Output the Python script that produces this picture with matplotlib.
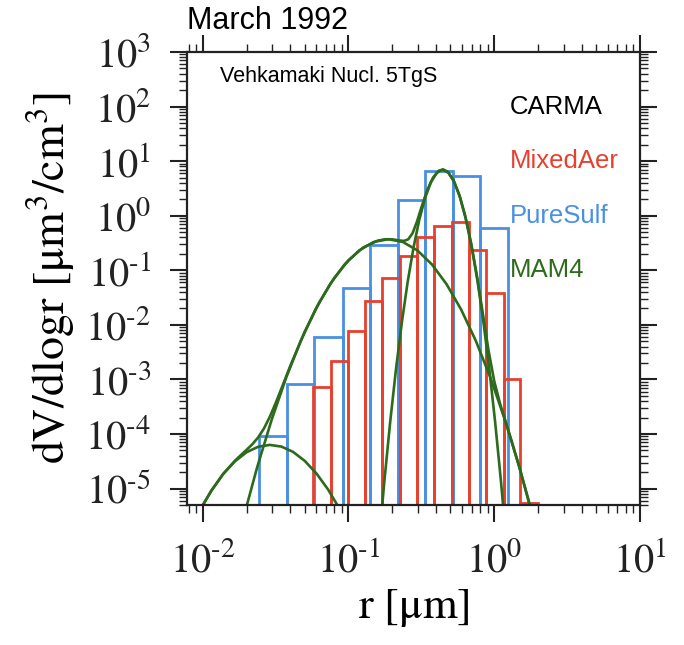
import numpy as np
import matplotlib
matplotlib.use('Agg')
import matplotlib.pyplot as plt
from matplotlib import ticker

plt.rcParams['mathtext.fontset'] = 'stix'
plt.rcParams['font.family'] = ['Liberation Sans', 'DejaVu Sans']

# PureSulf bins (edges in um, dV/dlogr)
sulf_edges = [0.0245, 0.0378, 0.0584, 0.0910, 0.141, 0.217, 0.336, 0.518, 0.803, 1.24]
sulf_vals = [9.0e-5, 8.4e-4, 6.0e-3, 0.047, 0.29, 1.9, 6.5, 5.4, 0.59]

# MixedAer bins
mixed_edges = [0.0575, 0.0757, 0.0991, 0.130, 0.171, 0.227, 0.295, 0.388,
               0.513, 0.667, 0.883, 1.16, 1.51, 1.99]
mixed_vals = [7.2e-4, 2.15e-3, 7.7e-3, 0.027, 0.073, 0.18, 0.41, 0.66,
              0.78, 0.236, 0.038, 1.03e-3, 5.4e-6]

# MAM4 modes
ait_r = [0.00955, 0.01148, 0.0138, 0.0166, 0.01995, 0.02399, 0.02884, 0.03467,
         0.04169, 0.05012, 0.06026, 0.07244, 0.0871]
ait_v = [4.0e-6, 9.2e-6, 1.84e-5, 3.14e-5, 4.62e-5, 5.82e-5, 6.31e-5, 5.87e-5,
         4.69e-5, 3.21e-5, 1.89e-5, 9.6e-6, 4.2e-6]

acc_r = [0.01875, 0.0236, 0.02972, 0.03741, 0.0471, 0.05929, 0.07464, 0.09397,
         0.1183, 0.1489, 0.1875, 0.236, 0.2972, 0.3741, 0.471, 0.5929, 0.7464,
         0.9397, 1.183, 1.489, 1.875]
acc_v = [2.53e-6, 2.43e-5, 1.83e-4, 1.09e-3, 5.13e-3, 0.019, 0.0554, 0.1274,
         0.2308, 0.3299, 0.3715, 0.3299, 0.2308, 0.1274, 0.0554, 0.019, 5.13e-3,
         1.09e-3, 1.83e-4, 2.43e-5, 2.53e-6]

crs_r = [0.1607, 0.1762, 0.1932, 0.2118, 0.2323, 0.2547, 0.2793, 0.3062, 0.3357,
         0.3681, 0.4036, 0.4426, 0.4853, 0.5321, 0.5834, 0.6397, 0.7015, 0.7691,
         0.8433, 0.9247, 1.0139, 1.1117, 1.219]
crs_v = [8.6e-7, 1.36e-5, 1.66e-4, 1.55e-3, 0.01112, 0.0614, 0.2606, 0.8517, 2.138,
         4.127, 6.12, 6.98, 6.12, 4.127, 2.138, 0.8517, 0.2606, 0.0614, 0.01112,
         1.55e-3, 1.66e-4, 1.36e-5, 8.6e-7]

tot_r = [0.00955, 0.01148, 0.0138, 0.0166, 0.0182, 0.01995, 0.02188, 0.02399,
         0.0263, 0.02884, 0.03162, 0.03548, 0.03981, 0.05012, 0.0631, 0.07943,
         0.1, 0.1259, 0.1585, 0.1778, 0.1995, 0.2239, 0.2399, 0.257, 0.2754,
         0.2951, 0.3162, 0.3467, 0.3802, 0.4169, 0.4467, 0.4786, 0.5248, 0.5754,
         0.631, 0.6918, 0.7586, 0.8318, 0.912, 1.0, 1.096, 1.202, 1.318, 1.514,
         1.738, 1.995]
tot_v = [4.0e-6, 9.2e-6, 1.85e-5, 3.21e-5, 4.07e-5, 5.1e-5, 6.47e-5, 8.64e-5,
         1.26e-4, 2.06e-4, 3.66e-4, 7.97e-4, 1.75e-3, 7.51e-3, 0.02596, 0.071,
         0.1531, 0.2602, 0.3487, 0.3692, 0.3687, 0.3514, 0.3449, 0.369, 0.4799,
         0.7817, 1.412, 2.932, 5.003, 6.693, 7.04, 6.40, 4.487, 2.422, 1.008,
         0.3249, 0.0822, 0.01715, 3.46e-3, 9.25e-4, 3.59e-4, 1.61e-4, 7.3e-5,
         2.08e-5, 5.47e-6, 1.32e-6]

blue = '#4a90e2'
red = '#e8402f'
green = '#2c6a1c'

fig = plt.figure(figsize=(6.84, 6.45), dpi=100)
ax = fig.add_axes([0.2734, 0.2171, 0.6623, 0.7023])
ax.set_xscale('log')
ax.set_yscale('log')

base = 1e-8
ax.bar(sulf_edges[:-1], np.array(sulf_vals) - base, width=np.diff(sulf_edges),
       align='edge', bottom=base, fill=False, edgecolor=blue, linewidth=2.0)
ax.bar(mixed_edges[:-1], np.array(mixed_vals) - base, width=np.diff(mixed_edges),
       align='edge', bottom=base, fill=False, edgecolor=red, linewidth=2.0)

for r, v in [(ait_r, ait_v), (acc_r, acc_v), (crs_r, crs_v), (tot_r, tot_v)]:
    ax.plot(r, v, color=green, linewidth=1.9)

ax.set_xlim(7.8e-3, 10)
ax.set_ylim(5e-6, 1e3)

def pow10(v, pos):
    e = int(round(np.log10(v)))
    return r'$10^{\text{%d}}$' % e

ax.xaxis.set_major_locator(ticker.LogLocator(base=10, numticks=10))
ax.xaxis.set_minor_locator(ticker.LogLocator(base=10, subs=np.arange(2, 10), numticks=20))
ax.yaxis.set_major_locator(ticker.LogLocator(base=10, numticks=20))
ax.yaxis.set_minor_locator(ticker.LogLocator(base=10, subs=np.arange(2, 10), numticks=40))
ax.xaxis.set_major_formatter(ticker.FuncFormatter(pow10))
ax.yaxis.set_major_formatter(ticker.FuncFormatter(pow10))
ax.xaxis.set_minor_formatter(ticker.NullFormatter())
ax.yaxis.set_minor_formatter(ticker.NullFormatter())

ax.tick_params(which='both', direction='out', top=True, right=True, colors='#222222')
ax.tick_params(which='major', length=12, width=1.5, labelsize=29, pad=14)
ax.tick_params(which='minor', length=6, width=1.0)
for s in ax.spines.values():
    s.set_linewidth(1.6)
    s.set_color('#222222')

ax.set_xlabel(r'r [$\mathrm{\mu}$m]', fontsize=32, family='STIXGeneral', labelpad=6)
ax.set_ylabel(r'dV/dlogr [$\mathrm{\mu}$m$^3$/cm$^3$]', fontsize=33,
              family='STIXGeneral', labelpad=6)

fig.text(0.2734, 0.968, 'March 1992', fontsize=22, ha='left', va='center')
ax.text(0.072, 0.945, 'Vehkamaki Nucl. 5TgS', transform=ax.transAxes, fontsize=15.5,
        ha='left', va='center')
for lab, col, yv in [('CARMA', 'black', 1e2), ('MixedAer', red, 1e1),
                     ('PureSulf', blue, 1e0), ('MAM4', green, 1e-1)]:
    ax.text(1.27, yv, lab, color=col, fontsize=18.5, ha='left', va='center')

fig.savefig('out.png', dpi=100)
